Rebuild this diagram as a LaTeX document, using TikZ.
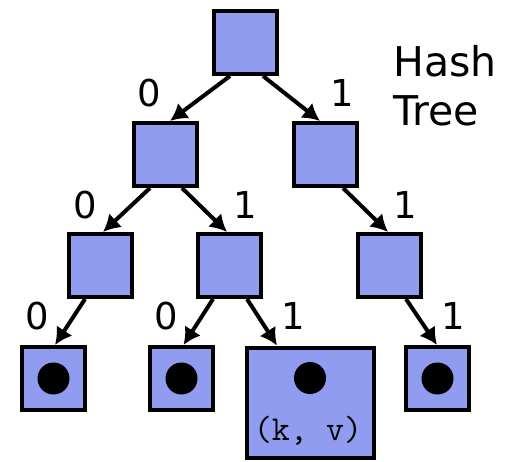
\documentclass[tikz,border=0pt]{standalone}
\usepackage{fontspec}
\setmainfont{DejaVu Sans}
\usetikzlibrary{arrows.meta}
\definecolor{hashblue}{RGB}{143,156,240}

\begin{document}
\begin{tikzpicture}[
  x=1pt, y=-1pt,
  box/.style={rectangle, draw, line width=4pt, fill=hashblue, minimum size=63pt, inner sep=0pt},
  dot/.style={circle, fill=black, minimum size=32pt, inner sep=0pt},
  bit/.style={font=\fontsize{37}{44}\selectfont, inner sep=0pt},
  link/.style={line width=4pt, -{Latex[length=17pt, width=19pt]}}
]
\useasboundingbox (0,0) rectangle (511,462);

% Nodes
\node[box] (root) at (245.5,42.5) {};
\node[box] (n0) at (165.5,154.5) {};
\node[box] (n1) at (325.5,154.5) {};
\node[box] (n00) at (100.5,265.5) {};
\node[box] (n01) at (229.5,265.5) {};
\node[box] (n11) at (389.5,265.5) {};
\node[box] (n000) at (53.5,378.5) {};
\node[box] (n010) at (181.5,378.5) {};
\node[box, minimum width=127pt, minimum height=110pt] (n011) at (310,402.5) {};
\node[box] (n111) at (437.5,378.5) {};

% Leaf entries
\node[dot] (d000) at (n000) {};
\node[dot] (d010) at (n010) {};
\node[dot] (d011) at (310,378) {};
\node[dot] (d111) at (n111) {};
\node[font=\ttfamily\fontsize{35}{40}\selectfont, inner sep=0pt] (kv) at (308,431) {(k, v)};

% Title
\node[font=\fontsize{41}{49}\selectfont, align=left, anchor=north west, inner sep=0pt] (title) at (393,45) {Hash\\Tree};

% Edges
\draw[link] ([xshift=-15.5]root.south) -- ([xshift=4.5]n0.north);
\draw[link] ([xshift=17.5]root.south) -- ([xshift=-5.5]n1.north);
\draw[link] ([xshift=-15.5]n0.south) -- ([xshift=2.5]n00.north);
\draw[link] ([xshift=16.5]n0.south) -- ([xshift=-2.5]n01.north);
\draw[link] ([xshift=17.5]n1.south) -- ([xshift=-1.5]n11.north);
\draw[link] ([xshift=-15.5]n00.south) -- ([xshift=1.5]n000.north);
\draw[link] ([xshift=-16.5]n01.south) -- ([xshift=2]n010.north);
\draw[link] ([xshift=17.5]n01.south) -- ([xshift=-33]n011.north);
\draw[link] ([xshift=16.5]n11.south) -- ([xshift=-0.5]n111.north);

% Edge labels
\node[bit] (b0) at (149,93) {0};
\node[bit] (b1) at (342,93) {1};
\node[bit] (b00) at (85,205) {0};
\node[bit] (b01) at (245,205) {1};
\node[bit] (b11) at (405,205) {1};
\node[bit] (b000) at (37,316) {0};
\node[bit] (b010) at (166,316) {0};
\node[bit] (b011) at (293,316) {1};
\node[bit] (b111) at (453,316) {1};
\end{tikzpicture}
\end{document}
